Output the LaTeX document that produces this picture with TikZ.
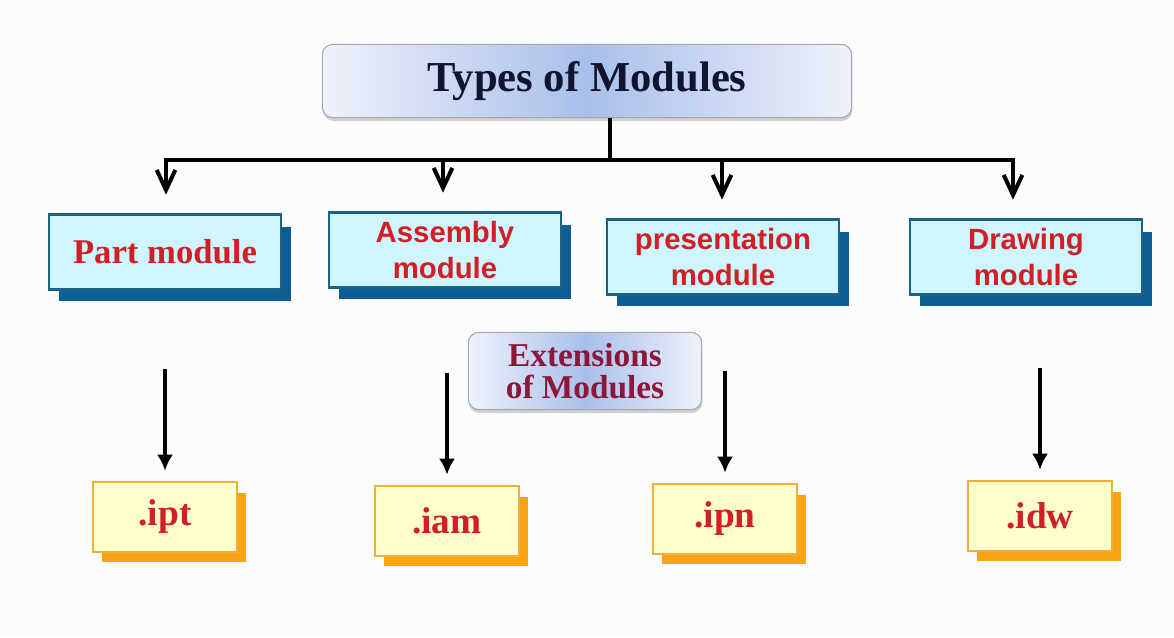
\documentclass[tikz,border=0pt]{standalone}
\usepackage{fontspec}
\setmainfont{Liberation Serif}
\setsansfont{Liberation Sans}
\usetikzlibrary{arrows.meta, positioning, calc, shadows}
\definecolor{pagebg}{HTML}{FBFCFD}
\definecolor{titleedge}{HTML}{EEF2FB}
\definecolor{titlemid}{HTML}{A9BFEB}
\definecolor{titleink}{HTML}{10142E}
\definecolor{modfill}{HTML}{CFF6FF}
\definecolor{modedge}{HTML}{1C6287}
\definecolor{modshadow}{HTML}{0D5E95}
\definecolor{extfill}{HTML}{FFFFCC}
\definecolor{extedge}{HTML}{F2AE3A}
\definecolor{extshadow}{HTML}{F8A318}
\definecolor{labelred}{HTML}{D21F26}
\definecolor{darkcrimson}{HTML}{8C1839}

\begin{document}
\begin{tikzpicture}[x=0.75pt, y=-0.75pt,
  headbox/.style={draw=gray!70, line width=0.8pt, rounded corners=8pt, inner sep=0pt, align=center,
    left color=titleedge, right color=titleedge, middle color=titlemid,
    drop shadow={shadow xshift=0.5pt, shadow yshift=-2.5pt, opacity=0.35}},
  modbox/.style={draw=modedge, line width=2pt, fill=modfill, minimum width=174pt, minimum height=56pt,
    general shadow={fill=modshadow, shadow xshift=7.5pt, shadow yshift=-9pt},
    align=center, text=labelred, font=\sffamily\bfseries\fontsize{22}{27.5}\selectfont},
  extbox/.style={draw=extedge, line width=1.4pt, fill=extfill, minimum width=108pt, minimum height=52pt,
    general shadow={fill=extshadow, shadow xshift=6.5pt, shadow yshift=-8pt},
    text=labelred, font=\bfseries\fontsize{28}{32}\selectfont},
  openarrow/.style={line width=2.8pt, -{Straight Barb[length=15pt, width=14pt, line width=3pt]}},
  extarrow/.style={line width=3pt, -{Latex[length=12pt, width=12pt]}}]

  \fill[pagebg] (0,0) rectangle (1174,637);
  \useasboundingbox (0,0) rectangle (1174,637);

  % heading
  \node[headbox, minimum width=397pt, minimum height=55pt, text=titleink,
    font=\bfseries\fontsize{32}{36}\selectfont] (title) at (587,81) {Types of Modules};

  % module types
  \node[modbox, font=\bfseries\fontsize{26}{30}\selectfont] (part) at (165,252) {Part module};
  \node[modbox] (assembly) at (445,250) {Assembly\\module};
  \node[modbox] (present) at (723,257) {presentation\\module};
  \node[modbox] (drawing) at (1026,257) {Drawing\\module};

  \node[headbox, minimum width=175pt, minimum height=58pt, text=darkcrimson,
    font=\bfseries\fontsize{25}{23.5}\selectfont] (ext) at (585,371) {Extensions\\of Modules};

  % file extensions
  \node[extbox] (ipt) at (165,517) {.ipt};
  \node[extbox] (iam) at (447,521) {.iam};
  \node[extbox] (ipn) at (725,519) {.ipn};
  \node[extbox] (idw) at (1040,516) {.idw};

  % tree from the heading
  \coordinate (hub) at (610,160);
  \coordinate (t1) at (166,160);
  \coordinate (t2) at (443,160);
  \coordinate (t3) at (722,160);
  \coordinate (t4) at (1013,160);
  \draw[line width=2.8pt] (title.south -| hub) -- (hub);
  \draw[line width=2.8pt, line cap=rect] (t1) -- (t4);
  \foreach \t/\m in {t1/part, t2/assembly, t3/present, t4/drawing}
    \draw[openarrow, shorten >=14pt] (\t) -- (\t |- \m.north);

  \foreach \e in {ipt, iam, ipn, idw}
    \draw[extarrow, shorten >=8pt] (\e.north) ++(0,-112) -- (\e.north);
\end{tikzpicture}
\end{document}
